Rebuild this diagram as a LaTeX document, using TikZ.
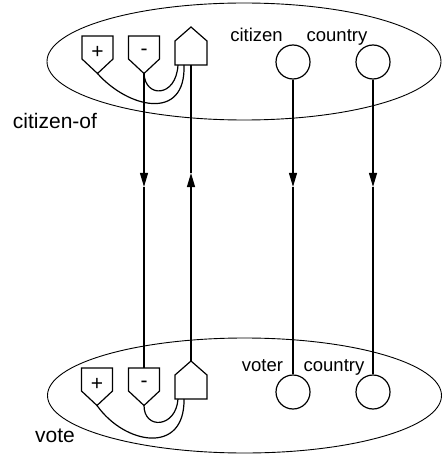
\documentclass[tikz,border=0pt]{standalone}
\usepackage{fontspec}
\setmainfont{Liberation Sans}
\usetikzlibrary{arrows.meta}
\begin{document}
\begin{tikzpicture}[x=1pt,y=-1pt,
  shapeline/.style={line width=1.2pt, line join=miter},
  ell/.style={line width=0.9pt},
  conn/.style={line width=1.2pt},
  tip/.style={-{Triangle[length=14pt,width=8pt]}},
  port/.style={circle, draw, line width=1.2pt, minimum size=34pt, inner sep=0pt},
  lab/.style={font=\fontsize{18.5}{20}\selectfont, inner sep=0pt, anchor=base},
  biglab/.style={font=\fontsize{21}{24}\selectfont, inner sep=0pt, anchor=base},
  sign/.style={font=\fontsize{21}{22}\selectfont, inner sep=0pt},
  downbox/.pic={
    \draw[shapeline] (-15.5,0) -- (15.5,0) -- (15.5,23) -- (0,37.5) -- (-15.5,23) -- cycle;
    \node[sign] (-sign) at (0,16.5) {#1};
    \coordinate (-tip) at (0,37.5);
    \coordinate (-top) at (0,0);
  },
  housebox/.pic={
    \draw[shapeline] (-16,0) -- (16,0) -- (16,-24) -- (0,-38) -- (-16,-24) -- cycle;
    \coordinate (-apex) at (0,-38);
    \coordinate (-bottom) at (0,0);
    \coordinate (-c1) at (-13,0);
    \coordinate (-c2) at (-7,0);
  }
]
\useasboundingbox (0,0) rectangle (442,457);

% ellipses
\draw[ell] (244,61.5) ellipse [x radius=197pt, y radius=58.5pt];
\draw[ell] (244.5,395.5) ellipse [x radius=197pt, y radius=57.5pt];

% top group
\pic (tp) at (97.5,36) {downbox=+};
\pic (tm) at (144,36) {downbox=-};
\pic (th) at (191,65) {housebox};
\node[port] (citT) at (293,62) {};
\node[port] (couT) at (373,62) {};
\node[lab] (citL) at (256.5,41.7) {citizen};
\node[lab] (couL) at (337,41.7) {country};
\node[biglab] (citof) at (55,129) {citizen-of};

% bottom group
\pic (bp) at (97,368) {downbox=+};
\pic (bm) at (144,368) {downbox=-};
\pic (bh) at (191,399) {housebox};
\node[port] (votB) at (293,392) {};
\node[port] (couB) at (373,392) {};
\node[lab] (votL) at (262.5,371) {voter};
\node[lab] (couLB) at (334,371) {country};
\node[biglab] (voteL) at (55,442) {vote};

% curves inside ellipses
\draw[conn] (tp-tip) .. controls +(30.5,34.5) and +(2,57) .. (th-c2);
\draw[conn] (tm-tip) .. controls +(1,24.5) and +(-2,33) .. (th-c1);
\draw[conn] (bp-tip) .. controls +(28,39.5) and +(1,56) .. (bh-c2);
\draw[conn] (bm-tip) .. controls +(0,24.5) and +(-2,29) .. (bh-c1);

% vertical connectors with mid arrows
\path (tm-tip) -- (bm-top) coordinate[pos=0.385] (a1);
\draw[conn,tip] (tm-tip) -- (a1);
\draw[conn] (a1) -- (bm-top);

\path (bh-apex) -- (th-bottom) coordinate[pos=0.635] (a2);
\draw[conn,tip] (bh-apex) -- (a2);
\draw[conn] (a2) -- (th-bottom);

\path (citT.south) -- (votB.north) coordinate[pos=0.364] (a3);
\draw[conn,tip] (citT.south) -- (a3);
\draw[conn] (a3) -- (votB.north);

\path (couT.south) -- (couB.north) coordinate[pos=0.364] (a4);
\draw[conn,tip] (couT.south) -- (a4);
\draw[conn] (a4) -- (couB.north);
\end{tikzpicture}
\end{document}
